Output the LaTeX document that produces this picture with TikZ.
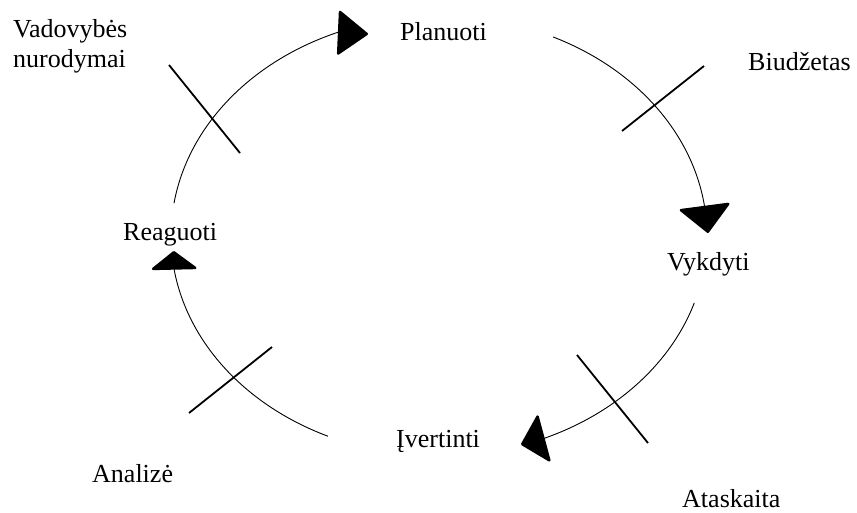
\documentclass[tikz,border=0pt]{standalone}
\usepackage{fontspec}
\setmainfont{Liberation Serif}
\usetikzlibrary{arrows.meta,calc}
\begin{document}
\begin{tikzpicture}[x=1pt,y=-1pt,
  lbl/.style={anchor=base west,inner sep=0pt,font=\fontsize{26}{30}\selectfont},
  arcline/.style={line width=0.9pt},
  tick/.style={line width=1.8pt},
  ]
\useasboundingbox (0,0) rectangle (857,512);
\coordinate (C) at (439,236);
% arc points on the ellipse
\coordinate (a1s) at ($(C)+(188.6:268 and 220)$);
\coordinate (a1t) at (368,34);
\coordinate (a2s) at ($(C)+(-64.8:268 and 220)$);
\coordinate (a2t) at (708,233);
\coordinate (a3s) at ($(C)+(17.7:268 and 220)$);
\coordinate (a3t) at (521,444.5);
\coordinate (a4s) at ($(C)+(114.5:268 and 220)$);
\coordinate (a4t) at (173.8,251);
% labels
\node[lbl] (plan) at (400,40) {Planuoti};
\node[lbl] (biud) at (748,70) {Biudžetas};
\node[lbl] (vykd) at (667,270) {Vykdyti};
\node[lbl] (ivert) at (396,447) {Įvertinti};
\node[lbl] (atask) at (682,507) {Ataskaita};
\node[lbl] (anal) at (92,482) {Analizė};
\node[lbl] (reag) at (123,240) {Reaguoti};
\node[lbl,align=left] (vad) at (13,67) {Vadovybės\\nurodymai};
% arcs with arrowheads
\draw[arcline,-{Triangle[length=31pt,width=46pt,round,line width=2.5pt]}]
  (a1s) arc[start angle=188.6,end angle=247.6,x radius=268,y radius=220] -- (a1t);
\draw[arcline,-{Triangle[length=28pt,width=53pt,round,line width=2.5pt]}]
  (a2s) arc[start angle=-64.8,end angle=-8.1,x radius=268,y radius=220] -- (a2t);
\draw[arcline,-{Triangle[length=25pt,width=51pt,round,line width=2.5pt]}]
  (a3s) arc[start angle=17.7,end angle=66.7,x radius=268,y radius=220] -- (a3t);
\draw[arcline,-{Triangle[length=19pt,width=49pt,round,line width=2.5pt]}]
  (a4s) arc[start angle=114.5,end angle=171.1,x radius=268,y radius=220] -- (a4t);
% tick marks
\coordinate (t1a) at (169,65);  \coordinate (t1b) at (240,153);
\coordinate (t2a) at (622,131); \coordinate (t2b) at (704,66);
\coordinate (t3a) at (577,355); \coordinate (t3b) at (648,443);
\coordinate (t4a) at (189,413); \coordinate (t4b) at (272,347);
\draw[tick] (t1a) -- (t1b);
\draw[tick] (t2a) -- (t2b);
\draw[tick] (t3a) -- (t3b);
\draw[tick] (t4a) -- (t4b);
\end{tikzpicture}
\end{document}
